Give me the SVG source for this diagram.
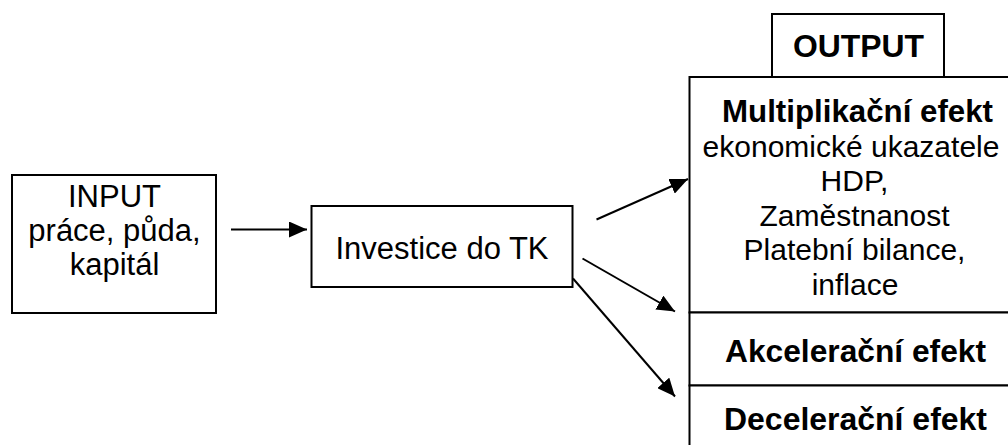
<svg xmlns="http://www.w3.org/2000/svg" width="1008" height="445" viewBox="0 0 1008 445">
<style>
.box{fill:#fff;stroke:#000;stroke-width:2}
.ln{stroke:#000;stroke-width:2;fill:none}
.t{font-family:"Liberation Sans",Arial,sans-serif;font-size:31px;fill:#000;text-anchor:middle}
.s{font-size:30px}
.b{font-family:"Liberation Sans",Arial,sans-serif;font-size:31px;font-weight:bold;fill:#000;text-anchor:middle}
</style>
<defs>
<marker id="ah" viewBox="0 0 18 16" refX="18" refY="8" markerWidth="18" markerHeight="16" markerUnits="userSpaceOnUse" orient="auto">
<path d="M0,0 L18,8 L0,16 z" fill="#000"/>
</marker>
</defs>
<rect width="1008" height="445" fill="#fff"/>
<g id="input">
<rect class="box" x="12" y="175" width="204" height="138"/>
<text class="t" x="114.5" y="207">INPUT</text>
<text class="t" x="114.5" y="241">práce, půda,</text>
<text class="t" x="114.5" y="275">kapitál</text>
</g>
<g id="investice">
<rect class="box" x="311.5" y="206" width="261" height="81"/>
<text class="t" x="442" y="259">Investice do TK</text>
</g>
<g id="output-tab">
<rect class="box" x="772" y="14" width="172" height="63"/>
<text class="b" x="858.5" y="56.5" textLength="131" lengthAdjust="spacingAndGlyphs">OUTPUT</text>
</g>
<g id="multiplikacni">
<rect class="box" x="689.5" y="77" width="330" height="235.5"/>
<text class="b" x="857.5" y="122" textLength="271" lengthAdjust="spacingAndGlyphs">Multiplikační efekt</text>
<text class="t s" x="851" y="156.5">ekonomické ukazatele</text>
<text class="t s" x="854.5" y="191">HDP,</text>
<text class="t s" x="854.5" y="225.5">Zaměstnanost</text>
<text class="t s" x="854.5" y="260">Platební bilance,</text>
<text class="t s" x="855" y="294.5">inflace</text>
</g>
<g id="akceleracni">
<rect class="box" x="689.5" y="312.5" width="330" height="73"/>
<text class="b" x="855.5" y="361.5" textLength="261" lengthAdjust="spacingAndGlyphs">Akcelerační efekt</text>
</g>
<g id="deceleracni">
<rect class="box" x="689.5" y="385.5" width="330" height="80"/>
<text class="b" x="855.5" y="430" textLength="263" lengthAdjust="spacingAndGlyphs">Decelerační efekt</text>
</g>
<g id="connectors">
<line class="ln" x1="231" y1="229.5" x2="307" y2="229.5" marker-end="url(#ah)"/>
<line class="ln" x1="596.5" y1="219.5" x2="688" y2="179" marker-end="url(#ah)"/>
<line class="ln" x1="582.5" y1="258.5" x2="675" y2="311.5" marker-end="url(#ah)"/>
<line class="ln" x1="573" y1="278.5" x2="675" y2="396.5" marker-end="url(#ah)"/>
</g>
</svg>
